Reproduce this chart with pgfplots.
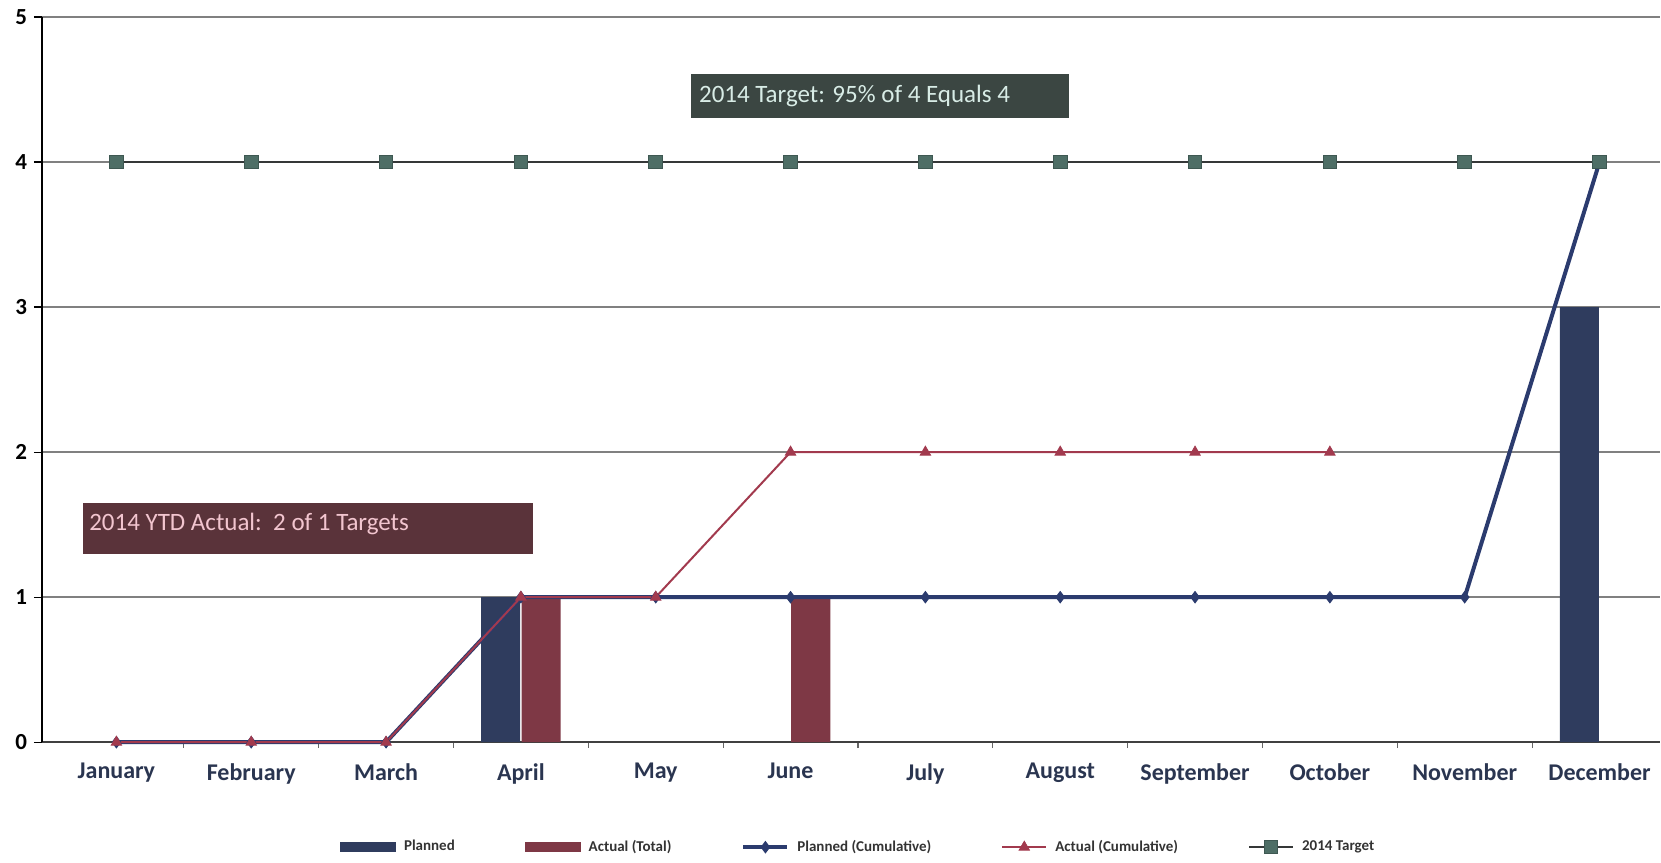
\documentclass[border=0pt]{standalone}
\usepackage{pgfplots}
\pgfplotsset{compat=1.18}
\usepackage{fontspec}
\setmainfont{Carlito}
\definecolor{plannedbar}{HTML}{2F3C5E}
\definecolor{actualbar}{HTML}{7E3845}
\definecolor{plannedline}{HTML}{2B3B6E}
\definecolor{actualline}{HTML}{A23A4E}
\definecolor{targetline}{HTML}{353838}
\definecolor{targetmark}{HTML}{4E6E66}
\definecolor{boxone}{HTML}{3B4642}
\definecolor{boxonetext}{HTML}{D8ECE6}
\definecolor{boxtwo}{HTML}{5A333A}
\definecolor{boxtwotext}{HTML}{F2C5CF}
\definecolor{xlab}{HTML}{2A3550}
\pgfplotsset{
  linelegend/.style={legend image code/.code={\draw[mark repeat=2,mark phase=2,##1] plot coordinates {(0pt,0pt) (11pt,0pt) (22pt,0pt)};}},
  barlegend/.style={legend image code/.code={\fill[##1] (0pt,-2.5pt) rectangle (28pt,2.5pt);}},
}
\begin{document}
\begin{tikzpicture}
\begin{axis}[
  at={(0,0)}, anchor=south west,
  scale only axis, width=809.5pt, height=362.8pt,
  xmin=-0.552, xmax=11.45, ymin=0, ymax=5,
  axis x line=bottom, axis y line=left,
  axis line style={-, line width=0.8pt},
  x axis line style={draw=black!75},
  ytick={0,1,2,3,4,5},
  ymajorgrids, grid style={draw=black!50, line width=0.8pt},
  xtick={0,...,11},
  xticklabels={January,February,March,April,May,June,July,August,September,October,November,December},
  major x tick style={draw=none},
  minor xtick={0.5,1.5,...,10.5},
  minor x tick style={draw=black!60, line width=0.6pt},
  tick align=outside,
  major y tick style={draw=black, line width=0.6pt},
  major tick length=4pt, minor tick length=3pt,
  /pgf/number format/assume math mode=true,
  yticklabel style={font=\bfseries\fontsize{11.5}{13}\selectfont, text=black},
  xticklabel style={font=\bfseries\fontsize{12}{14}\selectfont, text=xlab, yshift=-3pt},
  clip=false,
  legend columns=5,
  legend style={at={(0.505,0)}, anchor=center, yshift=-52.5pt, draw=none, fill=none,
    font=\bfseries\fontsize{7.5}{8}\selectfont, text=black!80,
    /tikz/every odd column/.append style={column sep=2pt},
    /tikz/every even column/.append style={column sep=33pt}},
]
% bars
\addplot[ybar, bar width=0.29, bar shift=-0.15, fill=plannedbar, draw=none, barlegend]
  coordinates {(3,1) (11,3)};
\addlegendentry{Planned}
\addplot[ybar, bar width=0.29, bar shift=0.15, fill=actualbar, draw=none, barlegend]
  coordinates {(3,1) (5,1)};
\addlegendentry{Actual (Total)}
% lines
\addplot[plannedline, line width=2pt, mark=diamond*, mark size=2.8pt,
  mark options={fill=plannedline, draw=plannedline, line width=0.5pt}, linelegend]
  coordinates {(0,0) (1,0) (2,0) (3,1) (4,1) (5,1) (6,1) (7,1) (8,1) (9,1) (10,1) (11,4)};
\addlegendentry{Planned (Cumulative)}
\addplot[actualline, line width=1pt, mark=triangle*, mark size=3pt,
  mark options={fill=actualline, draw=actualline, line width=0.4pt}, linelegend]
  coordinates {(0,0) (1,0) (2,0) (3,1) (4,1) (5,2) (6,2) (7,2) (8,2) (9,2)};
\addlegendentry{Actual (Cumulative)}
\addplot[targetline, line width=1pt, mark=square*, mark size=3.4pt,
  mark options={fill=targetmark, draw=targetmark!80!black, line width=0.5pt}, linelegend]
  coordinates {(0,4) (1,4) (2,4) (3,4) (4,4) (5,4) (6,4) (7,4) (8,4) (9,4) (10,4) (11,4)};
\addlegendentry{2014 Target}
% annotation boxes
\fill[boxone] (axis cs:4.265,4.307) rectangle (axis cs:7.068,4.606);
\node[anchor=west, inner sep=0pt, text=boxonetext, font=\fontsize{12.5}{14}\selectfont]
  at (axis cs:4.319,4.453) {2014 Target: 95\% of 4 Equals 4};
\fill[boxtwo] (axis cs:-0.251,1.300) rectangle (axis cs:3.087,1.650);
\node[anchor=west, inner sep=0pt, text=boxtwotext, font=\fontsize{12.5}{14}\selectfont]
  at (axis cs:-0.204,1.507) {2014 YTD Actual:\ \ 2 of 1 Targets};
\end{axis}
\path[use as bounding box] (-21pt,-57.7pt) rectangle (809.5pt,371.3pt);
\end{tikzpicture}
\end{document}
